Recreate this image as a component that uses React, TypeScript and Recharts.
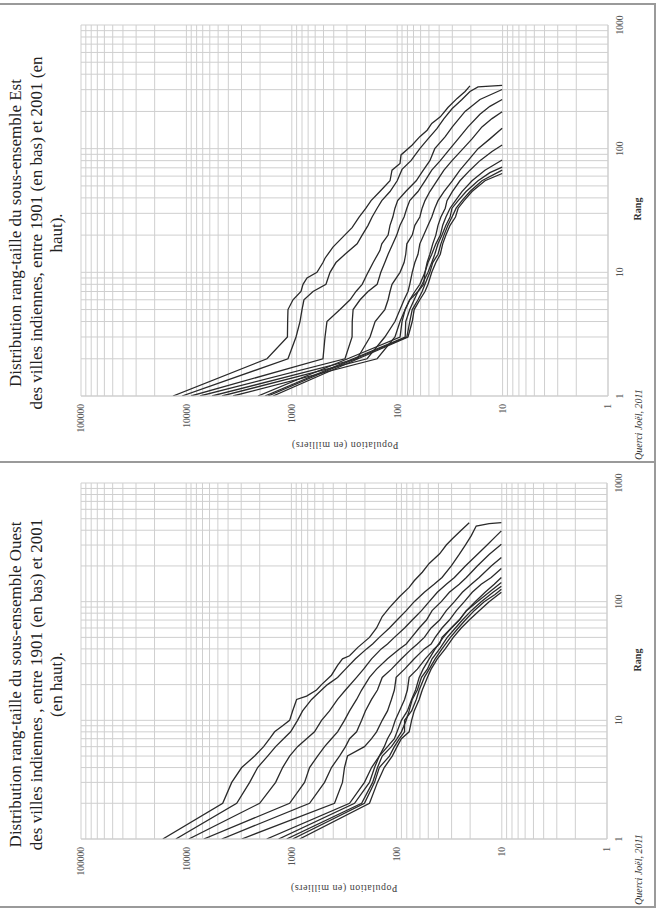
import React from 'react';
import { LineChart, Line, XAxis, YAxis, CartesianGrid } from 'recharts';

type Pt = [number, number];

// Census years (one curve per census)
const years = [1901, 1911, 1921, 1931, 1941, 1951, 1961, 1971, 1981, 1991, 2001];

// Axis ticks
const rankTicks = [1, 2, 3, 4, 5, 6, 7, 8, 9, 10, 20, 30, 40, 50, 60, 70, 80, 90, 100, 200, 300, 400, 500, 600, 700, 800, 900, 1000];
const rankLabels = [1, 10, 100, 1000];
const popTicks = [
  1, 2, 3, 4, 5, 6, 7, 8, 9,
  10, 20, 30, 40, 50, 60, 70, 80, 90,
  100, 200, 300, 400, 500, 600, 700, 800, 900,
  1000, 2000, 3000, 4000, 5000, 6000, 7000, 8000, 9000,
  10000, 20000, 30000, 40000, 50000, 60000, 70000, 80000, 90000,
  100000,
];
const popLabels = [1, 10, 100, 1000, 10000, 100000];

// Titles
const estTitle = [
  'Distribution rang-taille du sous-ensemble Est',
  'des villes indiennes, entre 1901 (en bas) et 2001 (en',
  'haut).',
];
const ouestTitle = [
  'Distribution rang-taille du sous-ensemble Ouest',
  'des villes indiennes , entre 1901 (en bas) et 2001',
  '(en haut).',
];
const yLabel = 'Population (en milliers)';
const xLabel = 'Rang';
const source = 'Querci Joël, 2011';

// ---- Est : [rang, population (milliers)] ----
const est2001: Pt[] = [[1, 13410], [2, 1719], [3, 1100], [4, 1095], [5, 1087], [6, 974], [7, 818], [8, 783], [9, 717], [10, 577], [12, 506], [13, 484], [16, 407], [19, 334], [23, 268], [28, 230], [33, 198], [38, 177], [45, 146], [55, 117], [67, 112], [76, 94], [89, 92], [107, 72], [125, 61], [141, 52], [160, 47], [181, 39], [215, 33], [255, 27], [290, 22.7], [322, 20.4]];
const est1991: Pt[] = [[1, 11010], [2, 1087], [3, 912], [4, 836], [5, 800], [6, 767], [7, 629], [8, 474], [10, 434], [12, 381], [14, 313], [17, 240], [20, 215], [24, 189], [28, 173], [33, 155], [38, 140], [45, 117], [55, 100], [68, 90], [80, 74], [100, 61], [120, 51], [145, 42], [175, 36], [210, 30.2], [250, 24.3], [290, 20.4], [316, 17.1], [320, 13.2], [325, 10.1]];
const est1981: Pt[] = [[1, 9040], [2, 506], [3, 484], [4, 464], [5, 349], [6, 280], [7, 246], [8, 215], [10, 189], [12, 169], [15, 146], [17, 140], [20, 122], [24, 117], [28, 110], [33, 105], [38, 99], [45, 83], [55, 66], [65, 58], [80, 49], [100, 44], [125, 35], [150, 30], [200, 22.7], [250, 16.4], [301, 10.1]];
const est1971: Pt[] = [[1, 7430], [2, 313], [3, 268], [4, 267], [5, 262], [6, 225], [7, 189], [8, 155], [10, 143], [12, 131], [14, 122], [17, 110], [20, 101], [24, 94], [28, 86], [33, 81], [38, 76], [45, 63.5], [55, 54.5], [67, 47], [80, 39], [100, 31.5], [120, 26.4], [150, 21.3], [190, 16.4], [220, 13.2], [250, 10.1]];
const est1961: Pt[] = [[1, 5715], [2, 240], [3, 181], [4, 162], [5, 131], [6, 122], [7, 117], [8, 112], [10, 94], [12, 86], [14, 83], [17, 81], [20, 72], [24, 68], [28, 61], [33, 58], [38, 54.5], [45, 49], [55, 42], [67, 36], [80, 30.2], [100, 23.7], [120, 19.5], [150, 15.7], [175, 12.6], [199, 10.1]];
const est1951: Pt[] = [[1, 4594], [2, 193], [3, 131], [4, 105], [5, 94], [6, 86], [7, 79], [8, 76], [10, 72], [12, 68], [14, 63.5], [17, 61], [20, 56], [24, 51], [28, 47], [33, 44], [38, 41], [45, 36], [55, 30], [67, 25.4], [80, 21.3], [100, 17.1], [120, 13.2], [146, 10.1]];
const est1941: Pt[] = [[1, 3615], [2, 155], [3, 105], [4, 94], [5, 84], [6, 76], [7, 63.5], [8, 56], [10, 54.5], [12, 52], [14, 49], [17, 46], [20, 43], [24, 41], [28, 38.5], [33, 35], [38, 33.7], [45, 30], [55, 25.4], [67, 20.4], [80, 16.4], [95, 12.6], [107, 10.1]];
const est1931: Pt[] = [[1, 2094], [2, 295], [3, 94], [4, 90], [5, 84], [6, 76], [7, 68], [8, 61], [10, 54.5], [12, 51], [14, 47], [17, 43], [20, 39], [24, 37], [28, 34.5], [33, 31.5], [38, 28], [45, 24.3], [55, 19.5], [67, 14.7], [81, 10.1]];
const est1921: Pt[] = [[1, 1797], [2, 262], [3, 84], [4, 83], [5, 76], [6, 69], [7, 63.5], [8, 58], [10, 51], [12, 47], [14, 44], [17, 41], [20, 37.6], [24, 34.5], [28, 31.5], [33, 30.2], [38, 26.4], [45, 22.2], [55, 17.1], [64, 13.2], [71, 10.1]];
const est1911: Pt[] = [[1, 1682], [2, 250], [3, 81], [4, 76], [5, 72], [6, 63.5], [7, 58], [8, 54.5], [10, 49], [12, 46], [14, 41], [17, 38.5], [20, 36], [24, 33], [28, 30.2], [33, 27.6], [38, 24.3], [45, 20.4], [55, 15.7], [67, 10.1]];
const est1901: Pt[] = [[1, 1509], [2, 235], [3, 79], [4, 72], [5, 69], [6, 61], [7, 54.5], [8, 51], [10, 47], [12, 43], [14, 39], [17, 37], [20, 34.5], [24, 31.5], [28, 28], [33, 26.4], [38, 23.2], [45, 19.5], [55, 14.7], [63, 10.1]];

// ---- Ouest : [rang, population (milliers)] ----
const ouest2001: Pt[] = [[1, 16690], [2, 4497], [3, 3692], [4, 2968], [5, 2236], [6, 1837], [7, 1610], [8, 1444], [9, 1212], [10, 1040], [12, 974], [15, 892], [16, 717], [18, 577], [20, 517], [24, 416], [29, 364], [33, 327], [35, 280], [41, 235], [50, 181], [60, 155], [75, 137], [89, 117], [110, 94], [132, 76], [150, 68], [177, 57], [210, 49], [253, 39], [300, 33.7], [339, 29.5], [400, 24.3], [463, 20.4]];
const ouest1991: Pt[] = [[1, 12550], [2, 3310], [3, 2493], [4, 2094], [5, 1682], [6, 1412], [7, 1187], [8, 1017], [10, 874], [12, 783], [15, 643], [18, 517], [20, 454], [23, 364], [27, 306], [33, 246], [40, 193], [44, 169], [50, 146], [60, 117], [70, 99], [84, 81], [100, 68], [120, 54.5], [140, 44], [160, 37], [200, 30.2], [250, 25.4], [300, 22.2], [360, 19.5], [434, 17.5], [455, 13.2], [464, 10.1]];
const ouest1981: Pt[] = [[1, 9450], [2, 2003], [3, 1412], [4, 1212], [5, 1040], [6, 874], [7, 717], [8, 603], [10, 517], [12, 434], [15, 364], [18, 306], [23, 240], [27, 206], [33, 173], [40, 140], [44, 122], [50, 105], [60, 84], [70, 71], [84, 58], [100, 49], [120, 41], [140, 33.7], [160, 28.2], [200, 22.2], [250, 17.1], [300, 13.8], [350, 11.6], [395, 10.1]];
const ouest1971: Pt[] = [[1, 6810], [2, 1040], [3, 750], [4, 672], [5, 564], [6, 484], [7, 416], [8, 364], [10, 313], [12, 280], [15, 240], [18, 215], [23, 181], [27, 155], [33, 122], [40, 94], [44, 81], [50, 72], [60, 61], [70, 52], [84, 46], [100, 37.6], [120, 31.5], [140, 25.4], [160, 21.7], [200, 17.1], [250, 13.2], [305, 10.1]];
const ouest1961: Pt[] = [[1, 4594], [2, 672], [3, 484], [4, 416], [5, 349], [6, 306], [7, 280], [8, 240], [10, 215], [12, 198], [15, 173], [18, 152], [23, 137], [27, 112], [33, 90], [40, 72], [44, 63.5], [50, 54.5], [60, 47], [70, 39], [84, 33.7], [100, 28.2], [120, 23.7], [140, 19.5], [160, 16.4], [200, 12.6], [236, 10.1]];
const ouest1951: Pt[] = [[1, 2968], [2, 389], [3, 327], [4, 313], [5, 293], [6, 202], [7, 173], [8, 155], [10, 137], [12, 122], [15, 112], [18, 105], [23, 101], [27, 84], [33, 68], [40, 54.5], [44, 47], [50, 43], [60, 37], [70, 31.5], [84, 27], [100, 22.7], [120, 19.1], [140, 15.7], [160, 12.6], [190, 10.1]];
const ouest1941: Pt[] = [[1, 1719], [2, 280], [3, 202], [4, 173], [5, 146], [6, 131], [7, 122], [8, 112], [10, 103], [12, 94], [15, 84], [18, 79], [23, 76], [27, 63.5], [33, 53.3], [40, 44], [44, 39], [50, 37], [60, 30.2], [70, 25.4], [84, 21.7], [100, 17.9], [120, 14.4], [140, 11.8], [160, 10.1]];
const ouest1931: Pt[] = [[1, 1323], [2, 251], [3, 181], [4, 162], [5, 146], [6, 122], [7, 105], [8, 99], [10, 90], [12, 79], [15, 72], [18, 66], [23, 61], [27, 56], [33, 49], [40, 43], [50, 36], [60, 30.2], [70, 25.4], [84, 21.7], [100, 17.1], [120, 13.2], [145, 10.1]];
const ouest1921: Pt[] = [[1, 1110], [2, 215], [3, 169], [4, 152], [5, 137], [6, 112], [7, 99], [8, 90], [10, 81], [12, 76], [15, 71], [18, 63.5], [23, 58], [27, 51], [33, 46], [40, 39], [50, 33], [60, 27.6], [70, 23.7], [84, 19.5], [100, 15.7], [120, 12.1], [135, 10.1]];
const ouest1911: Pt[] = [[1, 974], [2, 202], [3, 162], [4, 146], [5, 117], [6, 105], [7, 94], [8, 84], [10, 84], [12, 72], [15, 65], [18, 61], [23, 54.5], [27, 49], [33, 43], [40, 37], [50, 30.8], [60, 25.9], [70, 22.2], [84, 18.3], [100, 14.7], [115, 11.6], [127, 10.1]];
const ouest1901: Pt[] = [[1, 836], [2, 181], [3, 152], [4, 131], [5, 110], [6, 99], [7, 90], [8, 76], [10, 72], [12, 68], [15, 61], [18, 57], [23, 51], [27, 47], [33, 41], [40, 34.5], [50, 28.9], [60, 24.3], [70, 20.4], [84, 16.4], [100, 13.2], [120, 10.1]];

const estSeries = [est1901, est1911, est1921, est1931, est1941, est1951, est1961, est1971, est1981, est1991, est2001];
const ouestSeries = [ouest1901, ouest1911, ouest1921, ouest1931, ouest1941, ouest1951, ouest1961, ouest1971, ouest1981, ouest1991, ouest2001];

const FONT = '"Liberation Serif", "DejaVu Serif", serif';
const CHART_H = 656;

type PanelProps = {
  top: number;
  w: number;
  yAxisW: number;
  xAxisH: number;
  series: Pt[][];
  title: string[];
  yLabelLeft: number;
  rangLeft: number;
};

function Panel({ top, w, yAxisW, xAxisH, series, title, yLabelLeft, rangLeft }: PanelProps) {
  const plotTop = 81;
  const plotBottom = CHART_H - xAxisH;
  const plotMidY = (plotTop + plotBottom) / 2;
  return (
    <div
      style={{
        position: 'absolute',
        left: 0,
        top,
        width: w,
        height: CHART_H,
        transform: 'rotate(-90deg)',
        transformOrigin: '0 0',
        fontFamily: FONT,
      }}
    >
      <div
        style={{
          position: 'absolute',
          left: 0,
          top: 6,
          width: w,
          textAlign: 'center',
          fontSize: 17,
          lineHeight: '20.5px',
          color: '#222',
        }}
      >
        {title.map((t) => (
          <div key={t} style={{ whiteSpace: 'nowrap' }}>{t}</div>
        ))}
      </div>
      <div style={{ position: 'absolute', left: 0, top: 0 }}>
        <LineChart width={w} height={CHART_H} margin={{ top: plotTop, right: 21, bottom: 0, left: 0 }}>
          <CartesianGrid stroke="#cfcfcf" strokeWidth={1} />
          <XAxis
            dataKey="rank"
            type="number"
            scale="log"
            domain={[1, 1000]}
            allowDataOverflow
            ticks={rankTicks}
            interval={0}
            height={xAxisH}
            tickLine={false}
            axisLine={{ stroke: '#cfcfcf' }}
            tickFormatter={(v: number) => (rankLabels.includes(v) ? String(v) : '')}
            tick={{ fontSize: 9.5, fill: '#555', fontFamily: FONT }}
          />
          <YAxis
            type="number"
            scale="log"
            domain={[1, 100000]}
            allowDataOverflow
            ticks={popTicks}
            interval={0}
            width={yAxisW}
            tickLine={false}
            axisLine={{ stroke: '#cfcfcf' }}
            tickFormatter={(v: number) => (popLabels.includes(v) ? String(v) : '')}
            tick={{ fontSize: 9.5, fill: '#555', fontFamily: FONT }}
          />
          {series.map((s, i) => (
            <Line
              key={years[i]}
              name={String(years[i])}
              data={s.map(([rank, pop]) => ({ rank, pop }))}
              dataKey="pop"
              type="linear"
              stroke="#2a2a2a"
              strokeWidth={1.3}
              dot={false}
              activeDot={false}
              isAnimationActive={false}
            />
          ))}
        </LineChart>
      </div>
      <div
        style={{
          position: 'absolute',
          left: yLabelLeft,
          top: plotMidY,
          transform: 'translate(-50%, -50%) rotate(-90deg)',
          fontSize: 10,
          letterSpacing: 0.5,
          color: '#444',
          whiteSpace: 'nowrap',
        }}
      >
        {yLabel}
      </div>
      <div
        style={{
          position: 'absolute',
          left: rangLeft,
          top: 637,
          transform: 'translate(-50%, -50%)',
          fontSize: 10,
          fontWeight: 'bold',
          color: '#333',
          whiteSpace: 'nowrap',
        }}
      >
        {xLabel}
      </div>
      <div
        style={{
          position: 'absolute',
          left: 2,
          top: 638,
          transform: 'translateY(-50%)',
          fontSize: 10,
          fontStyle: 'italic',
          color: '#333',
          whiteSpace: 'nowrap',
        }}
      >
        {source}
      </div>
    </div>
  );
}

export default function App() {
  const frame = '#9a9a9a';
  return (
    <div
      style={{
        position: 'absolute',
        left: 0,
        top: 0,
        width: 656,
        height: 910,
        background: '#fff',
        overflow: 'hidden',
      }}
    >
      <Panel top={462} w={458} yAxisW={66} xAxisH={48} series={estSeries} title={estTitle} yLabelLeft={17} rangLeft={253} />
      <Panel top={907} w={445} yAxisW={68} xAxisH={49} series={ouestSeries} title={ouestTitle} yLabelLeft={19} rangLeft={247} />
      <div style={{ position: 'absolute', left: 0, top: 3, width: 656, height: 2, background: frame }} />
      <div style={{ position: 'absolute', left: 0, top: 461, width: 656, height: 2, background: frame }} />
      <div style={{ position: 'absolute', left: 0, top: 906, width: 656, height: 2, background: frame }} />
      <div style={{ position: 'absolute', left: 654, top: 3, width: 2, height: 905, background: frame }} />
    </div>
  );
}
